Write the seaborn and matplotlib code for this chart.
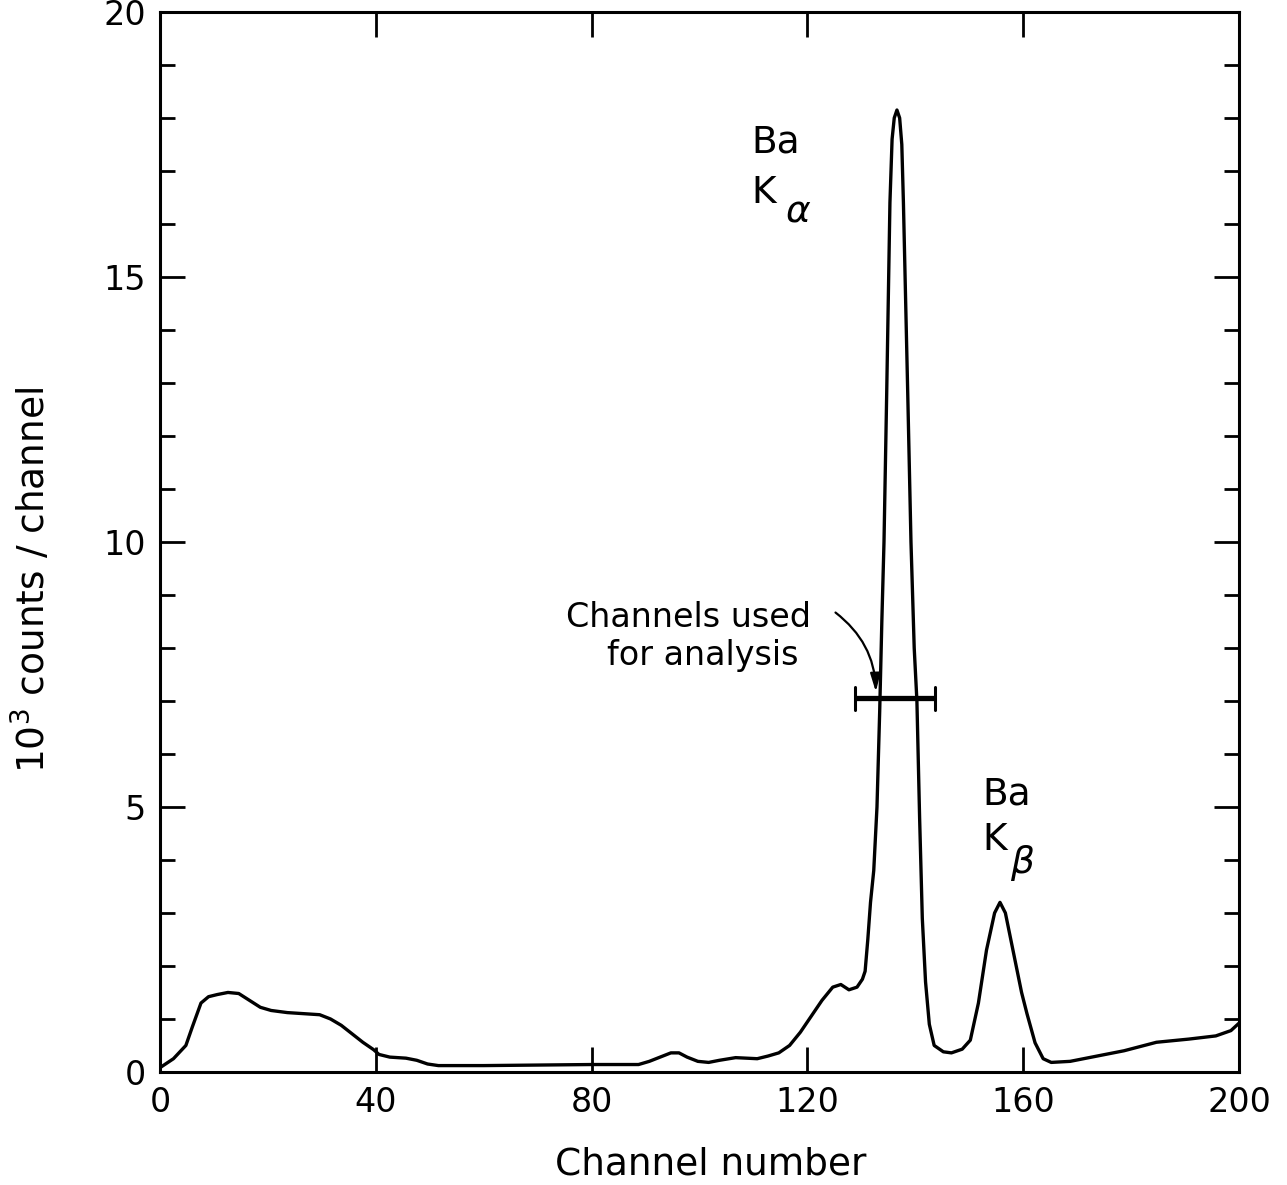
import matplotlib
matplotlib.use("Agg")
import matplotlib.pyplot as plt
import seaborn as sns
import pandas as pd

# ---- data ----
channels = [0, 2.5, 4.8, 6, 7.6, 9, 10.6, 12.6, 14.6, 16.6, 18.6, 20.6, 23.6, 26.6, 29.6,
            31.6, 33.6, 35.6, 37.6, 39.6, 40.6, 42.6, 45.6, 47.6, 49.6, 51.6, 55, 60, 70,
            80, 88.7, 90.7, 92.7, 94.7, 96.2, 97.7, 99.7, 101.7, 103.7, 106.7, 108.7,
            110.7, 112.7, 114.7, 116.7, 118.7, 120.7, 122.7, 124.7, 126.2, 127.7, 129.2,
            130.2, 130.7, 131.2, 131.7, 132.3, 132.9, 133.4, 133.8, 134.2, 134.7, 135.0,
            135.3, 135.7, 136.1, 136.6, 137.1, 137.5, 137.8, 138.2, 138.6, 139.2, 139.8,
            140.3, 140.8, 141.3, 141.9, 142.6, 143.5, 145.2, 146.7, 148.7, 150.2, 151.7,
            153.2, 154.7, 155.7, 156.7, 158.1, 159.7, 160.7, 162.2, 163.7, 165.2, 168.7,
            173.7, 178.7, 184.7, 190.7, 195.7, 198.5, 200]
counts = [0.08, 0.25, 0.5, 0.85, 1.3, 1.42, 1.46, 1.5, 1.48, 1.35, 1.22, 1.16, 1.12, 1.1,
          1.08, 1.0, 0.88, 0.72, 0.56, 0.42, 0.33, 0.28, 0.26, 0.22, 0.15, 0.12, 0.12, 0.12,
          0.13, 0.14, 0.14, 0.2, 0.28, 0.36, 0.36, 0.28, 0.2, 0.18, 0.22, 0.27, 0.26,
          0.25, 0.3, 0.36, 0.5, 0.75, 1.05, 1.35, 1.6, 1.65, 1.55, 1.6,
          1.75, 1.9, 2.5, 3.2, 3.8, 5.0, 6.8, 8.5, 10.0, 12.8, 14.6,
          16.4, 17.6, 18.0, 18.15, 18.0, 17.5, 16.4, 14.6, 12.8, 10.0, 8.0,
          7.0, 4.8, 2.9, 1.7, 0.9, 0.5, 0.38, 0.36, 0.43, 0.6, 1.3,
          2.3, 3.0, 3.2, 3.0, 2.3, 1.5, 1.1, 0.55, 0.25, 0.18, 0.2,
          0.3, 0.4, 0.56, 0.62, 0.68, 0.78, 0.92]

x_ticks = [0, 40, 80, 120, 160, 200]
y_ticks = [0, 5, 10, 15, 20]
y_minor = list(range(0, 21))

range_lo, range_hi, range_level = 128.8, 143.6, 7.05

df = pd.DataFrame({"channel": channels, "counts": counts})

# ---- plot ----
sns.set_theme(style="ticks")
plt.rcParams["font.family"] = ["DejaVu Sans"]
plt.rcParams.update({"text.color": "black", "axes.labelcolor": "black",
                     "xtick.color": "black", "ytick.color": "black"})

fig = plt.figure(figsize=(12.87, 11.85), dpi=100)
ax = fig.add_axes([0.1243, 0.0954, 0.9627 - 0.1243, 0.9899 - 0.0954])

sns.lineplot(data=df, x="channel", y="counts", ax=ax, color="black", linewidth=2.4,
             estimator=None, sort=True)

ax.set_xlim(0, 200)
ax.set_ylim(0, 20)
ax.set_xticks(x_ticks)
ax.set_xticklabels([str(t) for t in x_ticks])
ax.set_yticks(y_ticks)
ax.set_yticklabels([str(t) for t in y_ticks])
ax.set_yticks(y_minor, minor=True)

for s in ax.spines.values():
    s.set_visible(True)
    s.set_linewidth(2.2)
    s.set_color("black")

ax.tick_params(axis="x", which="major", direction="in", length=18, width=2,
               top=True, bottom=True, labelsize=24, pad=10, colors="black")
ax.tick_params(axis="y", which="major", direction="in", length=18, width=2,
               left=True, right=True, labelsize=24, pad=10, colors="black")
ax.tick_params(axis="y", which="minor", direction="in", length=11, width=2,
               left=True, right=True)

ax.set_xlabel("Channel number", fontsize=27)
ax.xaxis.set_label_coords(0.51, -0.0708)
ax.set_ylabel(r"10$^3$ counts / channel", fontsize=27)
ax.yaxis.set_label_coords(-0.099, 0.464)

# range bar (channels used for analysis)
ax.plot([range_lo, range_hi], [range_level, range_level], color="black",
        linewidth=3.8, solid_capstyle="butt")
for xc in (range_lo, range_hi):
    ax.plot([xc, xc], [range_level - 0.22, range_level + 0.22], color="black",
            linewidth=2.2)

# annotations
ax.text(75.3, 8.4, "Channels used", fontsize=24, ha="left", va="baseline")
ax.text(82.9, 7.68, "for analysis", fontsize=24, ha="left", va="baseline")
ax.annotate("", xy=(132.7, 7.12), xytext=(124.8, 8.7),
            arrowprops=dict(arrowstyle="-|>,head_length=0.9,head_width=0.25",
                            connectionstyle="arc3,rad=-0.25", color="black", lw=1.6))

ax.text(109.7, 17.34, "Ba", fontsize=27, ha="left", va="baseline")
ax.text(109.7, 16.4, "K", fontsize=27, ha="left", va="baseline")
ax.text(115.8, 16.05, r"$\alpha$", fontsize=27, ha="left", va="baseline")

ax.text(152.5, 5.04, "Ba", fontsize=27, ha="left", va="baseline")
ax.text(152.5, 4.19, "K", fontsize=27, ha="left", va="baseline")
ax.text(157.6, 3.75, r"$\beta$", fontsize=27, ha="left", va="baseline")

fig.savefig("out.png", dpi=100, facecolor="white")
